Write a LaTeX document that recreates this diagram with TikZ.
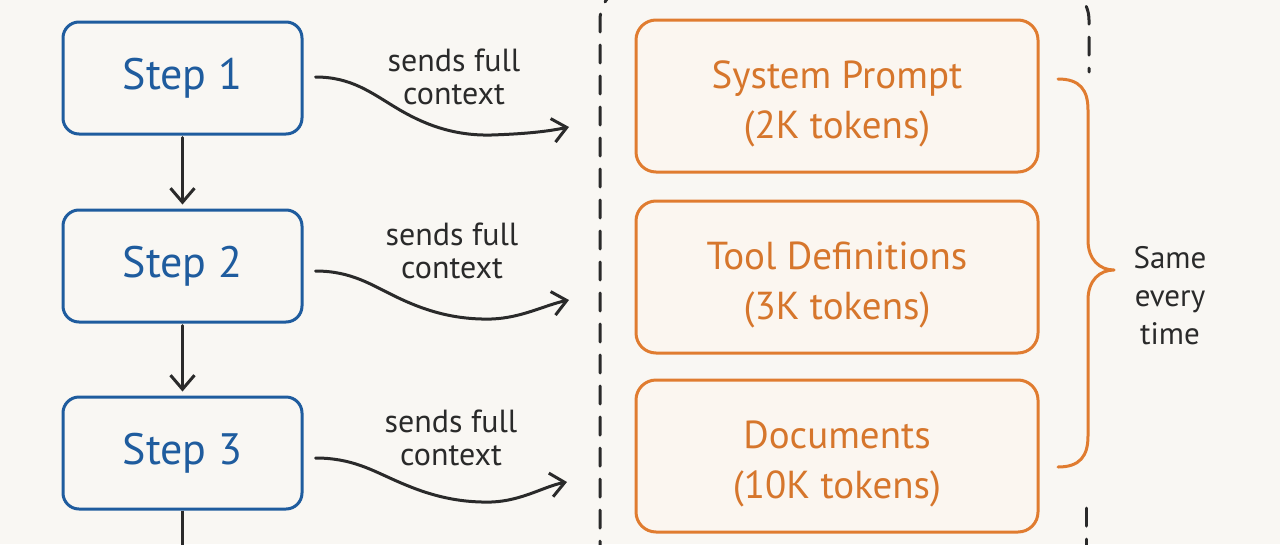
\documentclass[tikz,border=0pt]{standalone}
\usepackage{fontspec}
\setmainfont{PT Sans}
\usetikzlibrary{arrows.meta}
\definecolor{bg}{HTML}{F9F7F3}
\definecolor{stepblue}{HTML}{1F5C9E}
\definecolor{ctxorange}{HTML}{E07C30}
\definecolor{ctxtext}{HTML}{D6762C}
\definecolor{boxfill}{HTML}{FBF6F0}
\definecolor{ink}{HTML}{2A2A2A}
\newcommand{\tallstrut}{\rule{0pt}{44pt}}
\begin{document}
\begin{tikzpicture}[x=1pt,y=-1pt,
  stepbox/.style={draw=stepblue, line width=3pt, rounded corners=16pt,
    minimum width=239pt, minimum height=112pt, inner sep=0pt,
    font=\fontsize{44}{50}\selectfont, text=stepblue},
  ctxbox/.style={draw=ctxorange, line width=3pt, rounded corners=20pt, fill=boxfill,
    minimum width=402pt, minimum height=152pt, inner sep=0pt, align=center,
    font=\fontsize{39}{50}\selectfont, text=ctxtext},
  tip/.style={-{Straight Barb[length=14pt,width=24pt,line width=3pt]}},
  flow/.style={draw=ink, line width=3pt, line cap=round, line join=round, tip},
  lbl/.style={align=center, font=\fontsize{32}{33}\selectfont, text=ink, inner sep=0pt},
  note/.style={align=center, font=\fontsize{31}{38}\selectfont, text=ink, inner sep=0pt},
  frame/.style={draw=ink, line width=3pt, dash pattern=on 18pt off 13pt, line cap=round},
  brace/.style={draw=ctxorange, line width=3pt, line cap=round, line join=round}]
\fill[bg] (0,0) rectangle (1280,544);
\clip (0,0) rectangle (1280,544);

% dashed container
\draw[frame, rounded corners=35pt] (600,590) -- (600,-15) -- (1089,-15) -- (1089,72);
\draw[frame] (1086,508) -- (1086,600);

% steps
\node[stepbox] (s1) at (182.5,78) {\raisebox{-3pt}{Step 1}};
\node[stepbox] (s2) at (182.5,266) {\raisebox{-3pt}{Step 2}};
\node[stepbox] (s3) at (182.5,453) {\raisebox{-3pt}{Step 3}};
\coordinate (more) at (182.5,580);

\draw[flow] ([yshift=-2pt]s1.south) -- ([yshift=4pt]s2.north);
\draw[flow] ([yshift=-2pt]s2.south) -- ([yshift=4pt]s3.north);
\draw[ink, line width=3pt] (s3.south) -- (more);

% context boxes
\node[ctxbox] (sp) at (837,96) {\tallstrut System Prompt\\(2K tokens)};
\node[ctxbox] (td) at (837,277) {\tallstrut Tool Definitions\\(3K tokens)};
\node[ctxbox] (dc) at (837,456) {\tallstrut Documents\\(10K tokens)};

% curvy arrows
\coordinate (e1) at (569,127);
\coordinate (e2) at (569,300);
\coordinate (e3) at (567,482);
\draw[flow] ([xshift=12pt,yshift=1pt]s1.east)
  .. controls +(36,0) and +(-25,-15) .. ++(81,31)
  .. controls +(25,15) and +(-40,1) .. ++(95,27)
  .. controls +(30,-1) and +(-24,5) .. (e1);
\draw[flow] ([xshift=12pt,yshift=-5pt]s2.east)
  .. controls +(36,0) and +(-25,-12) .. ++(81,26)
  .. controls +(25,12) and +(-40,1) .. ++(95,22)
  .. controls +(30,-1) and +(-24,5) .. (e2);
\draw[flow] ([xshift=12pt,yshift=-5pt]s3.east)
  .. controls +(36,0) and +(-25,-11) .. ++(81,23)
  .. controls +(25,11) and +(-40,1) .. ++(95,21)
  .. controls +(30,-1) and +(-22,4) .. (e3);

\node[lbl] (l1) at (454,77) {sends full\\context};
\node[lbl] (l2) at (452,251) {sends full\\context};
\node[lbl] (l3) at (451,438) {sends full\\context};

% brace
\coordinate (bt) at (1058,79);
\coordinate (bb) at (1058,467);
\coordinate (bp) at (1114,270);
\draw[brace] (bt) .. controls +(22,0) and +(0,-20) .. (1088,110)
  -- (1088,240) .. controls +(0,20) and +(-14,0) .. (bp)
  .. controls +(-14,0) and +(0,-20) .. (1088,300)
  -- (1088,436) .. controls +(0,20) and +(22,0) .. (bb);
\node[note] (same) at (1170,296) {Same\\every\\time};
\end{tikzpicture}
\end{document}
